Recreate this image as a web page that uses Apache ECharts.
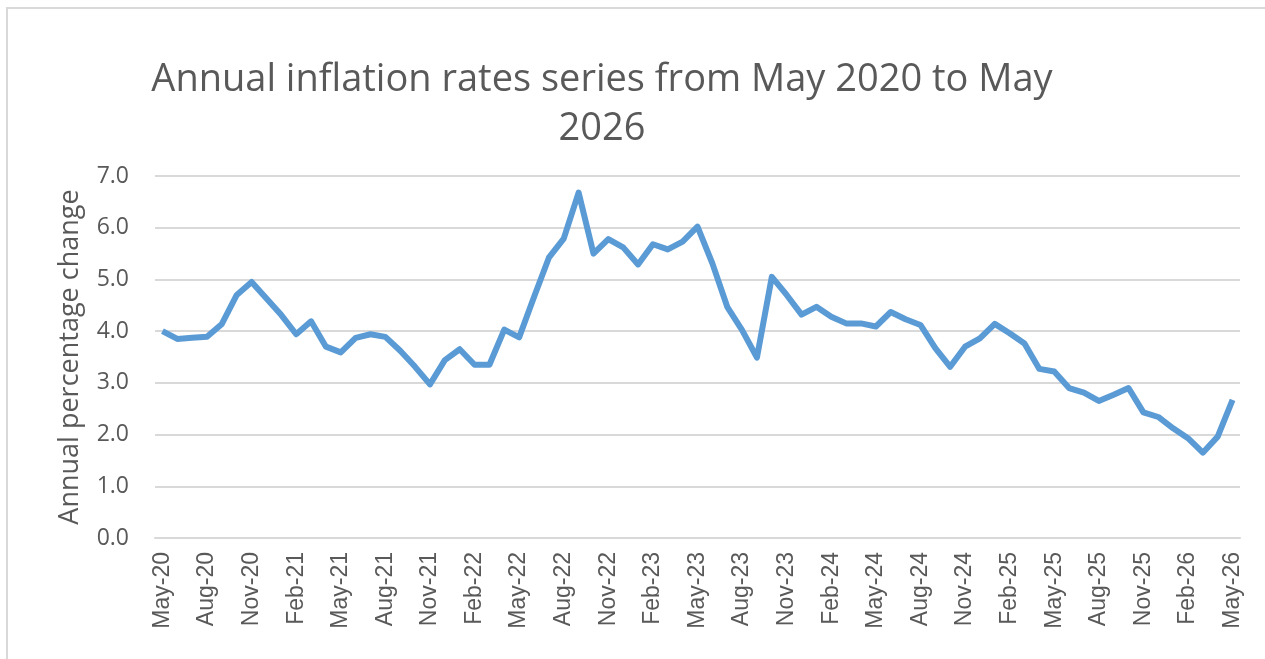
<!DOCTYPE html>
<html>
<head>
<meta charset="utf-8">
<script src="https://cdn.jsdelivr.net/npm/echarts@6/dist/echarts.min.js"></script>
<style>
  html, body { margin: 0; padding: 0; background: #fff; }
  #chart { width: 1265px; height: 659px; }
</style>
</head>
<body>
<div id="chart"></div>
<script>
// month labels, May-20 .. May-26
var months = [
  'May-20','Jun-20','Jul-20','Aug-20','Sep-20','Oct-20','Nov-20','Dec-20',
  'Jan-21','Feb-21','Mar-21','Apr-21','May-21','Jun-21','Jul-21','Aug-21','Sep-21','Oct-21','Nov-21','Dec-21',
  'Jan-22','Feb-22','Mar-22','Apr-22','May-22','Jun-22','Jul-22','Aug-22','Sep-22','Oct-22','Nov-22','Dec-22',
  'Jan-23','Feb-23','Mar-23','Apr-23','May-23','Jun-23','Jul-23','Aug-23','Sep-23','Oct-23','Nov-23','Dec-23',
  'Jan-24','Feb-24','Mar-24','Apr-24','May-24','Jun-24','Jul-24','Aug-24','Sep-24','Oct-24','Nov-24','Dec-24',
  'Jan-25','Feb-25','Mar-25','Apr-25','May-25','Jun-25','Jul-25','Aug-25','Sep-25','Oct-25','Nov-25','Dec-25',
  'Jan-26','Feb-26','Mar-26','Apr-26','May-26'
];

// annual % change
var inflation = [
  4.00, 3.85, 3.87, 3.89, 4.14, 4.70, 4.95, 4.63,
  4.31, 3.94, 4.19, 3.70, 3.59, 3.87, 3.94, 3.89, 3.62, 3.31, 2.97, 3.44,
  3.65, 3.35, 3.35, 4.03, 3.88, 4.66, 5.42, 5.79, 6.68, 5.50, 5.78, 5.62,
  5.29, 5.68, 5.58, 5.73, 6.02, 5.31, 4.47, 4.02, 3.49, 5.05, 4.70, 4.32,
  4.47, 4.28, 4.15, 4.15, 4.09, 4.37, 4.23, 4.12, 3.67, 3.31, 3.70, 3.86,
  4.14, 3.96, 3.76, 3.27, 3.22, 2.90, 2.81, 2.65, 2.77, 2.90, 2.43, 2.34,
  2.12, 1.93, 1.65, 1.96, 2.67
];

var chart = echarts.init(document.getElementById('chart'));

var grey = '#595959';
var gridGrey = '#d9d9d9';

chart.setOption({
  backgroundColor: '#fff',
  animation: false,
  title: {
    text: 'Annual inflation rates series from May 2020 to May\n2026',
    left: 597,
    top: 51,
    textAlign: 'center',
    textStyle: {
      fontFamily: 'Open Sans',
      fontSize: 38,
      fontWeight: 'normal',
      color: grey,
      lineHeight: 49
    }
  },
  graphic: [{
    type: 'rect',
    shape: { x: 7, y: 8, width: 1400, height: 800 },
    style: { fill: 'none', stroke: gridGrey, lineWidth: 2 },
    silent: true
  }],
  grid: {
    left: 155,
    right: 25,
    top: 176,
    bottom: 121
  },
  xAxis: {
    type: 'category',
    data: months,
    boundaryGap: true,
    axisLine: { lineStyle: { color: gridGrey, width: 2 } },
    axisTick: {
      interval: 2,
      length: 6,
      lineStyle: { color: gridGrey, width: 2 }
    },
    axisLabel: {
      interval: 2,
      rotate: 90,
      margin: 14,
      color: grey,
      fontFamily: 'Liberation Sans',
      fontSize: 23
    }
  },
  yAxis: {
    type: 'value',
    min: 0,
    max: 7,
    interval: 1,
    name: 'Annual percentage change',
    nameLocation: 'middle',
    nameRotate: 90,
    nameGap: 71,
    nameTextStyle: {
      fontFamily: 'Open Sans',
      fontSize: 27,
      color: grey
    },
    axisLine: { show: false },
    axisTick: { show: false },
    splitLine: { lineStyle: { color: gridGrey, width: 2 } },
    axisLabel: {
      margin: 26,
      color: grey,
      fontFamily: 'Open Sans',
      fontSize: 23,
      formatter: function (v) { return v.toFixed(1); }
    }
  },
  series: [{
    name: 'Annual inflation',
    type: 'line',
    data: inflation,
    showSymbol: false,
    lineStyle: { color: '#5b9bd5', width: 6, join: 'round' }
  }]
});
</script>
</body>
</html>
